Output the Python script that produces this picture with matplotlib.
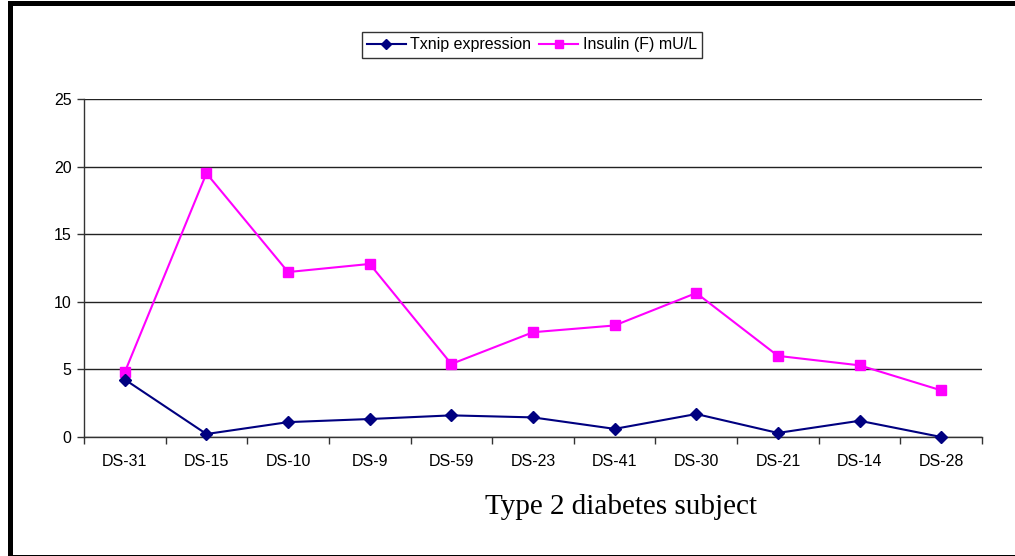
import matplotlib
matplotlib.use("Agg")
import matplotlib.pyplot as plt
from matplotlib.patches import Rectangle
from matplotlib.ticker import FixedLocator, NullFormatter, FixedFormatter

subjects = ["DS-31", "DS-15", "DS-10", "DS-9", "DS-59", "DS-23",
            "DS-41", "DS-30", "DS-21", "DS-14", "DS-28"]
txnip = [4.25, 0.22, 1.1, 1.33, 1.6, 1.45, 0.6, 1.7, 0.3, 1.2, 0.0]
insulin = [4.8, 19.5, 12.2, 12.8, 5.4, 7.75, 8.25, 10.65, 6.0, 5.3, 3.45]
y_ticks = [0, 5, 10, 15, 20, 25]

plt.rcParams["font.family"] = ["Liberation Sans", "DejaVu Sans"]

W, H = 1015, 556
fig = plt.figure(figsize=(W / 100, H / 100), dpi=100)
ax = fig.add_axes([84 / W, 1 - 437 / H, (982 - 84) / W, (437 - 99) / H])

x = list(range(len(subjects)))
ax.plot(x, txnip, color="#000080", lw=1.5, marker="D", markersize=6.5,
        label="Txnip expression", clip_on=False, zorder=4)
ax.plot(x, insulin, color="#FF00FF", lw=1.5, marker="s", markersize=7.5,
        label="Insulin (F) mU/L", clip_on=False, zorder=3)

ax.set_xlim(-0.5, len(subjects) - 0.5)
ax.set_ylim(0, 25)

# category axis: ticks between categories, labels centred on them
ax.xaxis.set_major_locator(FixedLocator([i - 0.5 for i in range(len(subjects) + 1)]))
ax.xaxis.set_major_formatter(NullFormatter())
ax.xaxis.set_minor_locator(FixedLocator(x))
ax.xaxis.set_minor_formatter(FixedFormatter(subjects))
ax.tick_params(axis="x", which="major", direction="out", length=5, width=1, color="#333333")
ax.tick_params(axis="x", which="minor", length=0, pad=12, labelsize=11.5)

ax.set_yticks(y_ticks)
ax.tick_params(axis="y", direction="out", length=5, width=1, color="#333333",
               labelsize=11.5, pad=4)

for spine in ["top", "right"]:
    ax.spines[spine].set_visible(False)
for spine in ["left", "bottom"]:
    ax.spines[spine].set_color("#333333")
    ax.spines[spine].set_linewidth(1)

ax.yaxis.grid(True, color="#222222", lw=1)
ax.set_axisbelow(True)

fig.text(621 / W, 1 - 507 / H, "Type 2 diabetes subject",
         family=["Liberation Serif", "DejaVu Serif"], fontsize=21,
         ha="center", va="center")

leg = fig.legend(loc="center", bbox_to_anchor=(532 / W, 1 - 45 / H),
                 ncol=2, frameon=True, fancybox=False, fontsize=11.5,
                 handlelength=2.4, handletextpad=0.3, columnspacing=0.5,
                 borderpad=0.35, markerscale=0.85)
leg.get_frame().set_edgecolor("black")
leg.get_frame().set_linewidth(1)

# outer frame
fig.patches.append(Rectangle((10 / W, -0.5 / H), 1.2, 1 - 2 / H,
                             transform=fig.transFigure, fill=False,
                             edgecolor="black", lw=3.6, clip_on=False))

fig.savefig("out.png", dpi=100)
